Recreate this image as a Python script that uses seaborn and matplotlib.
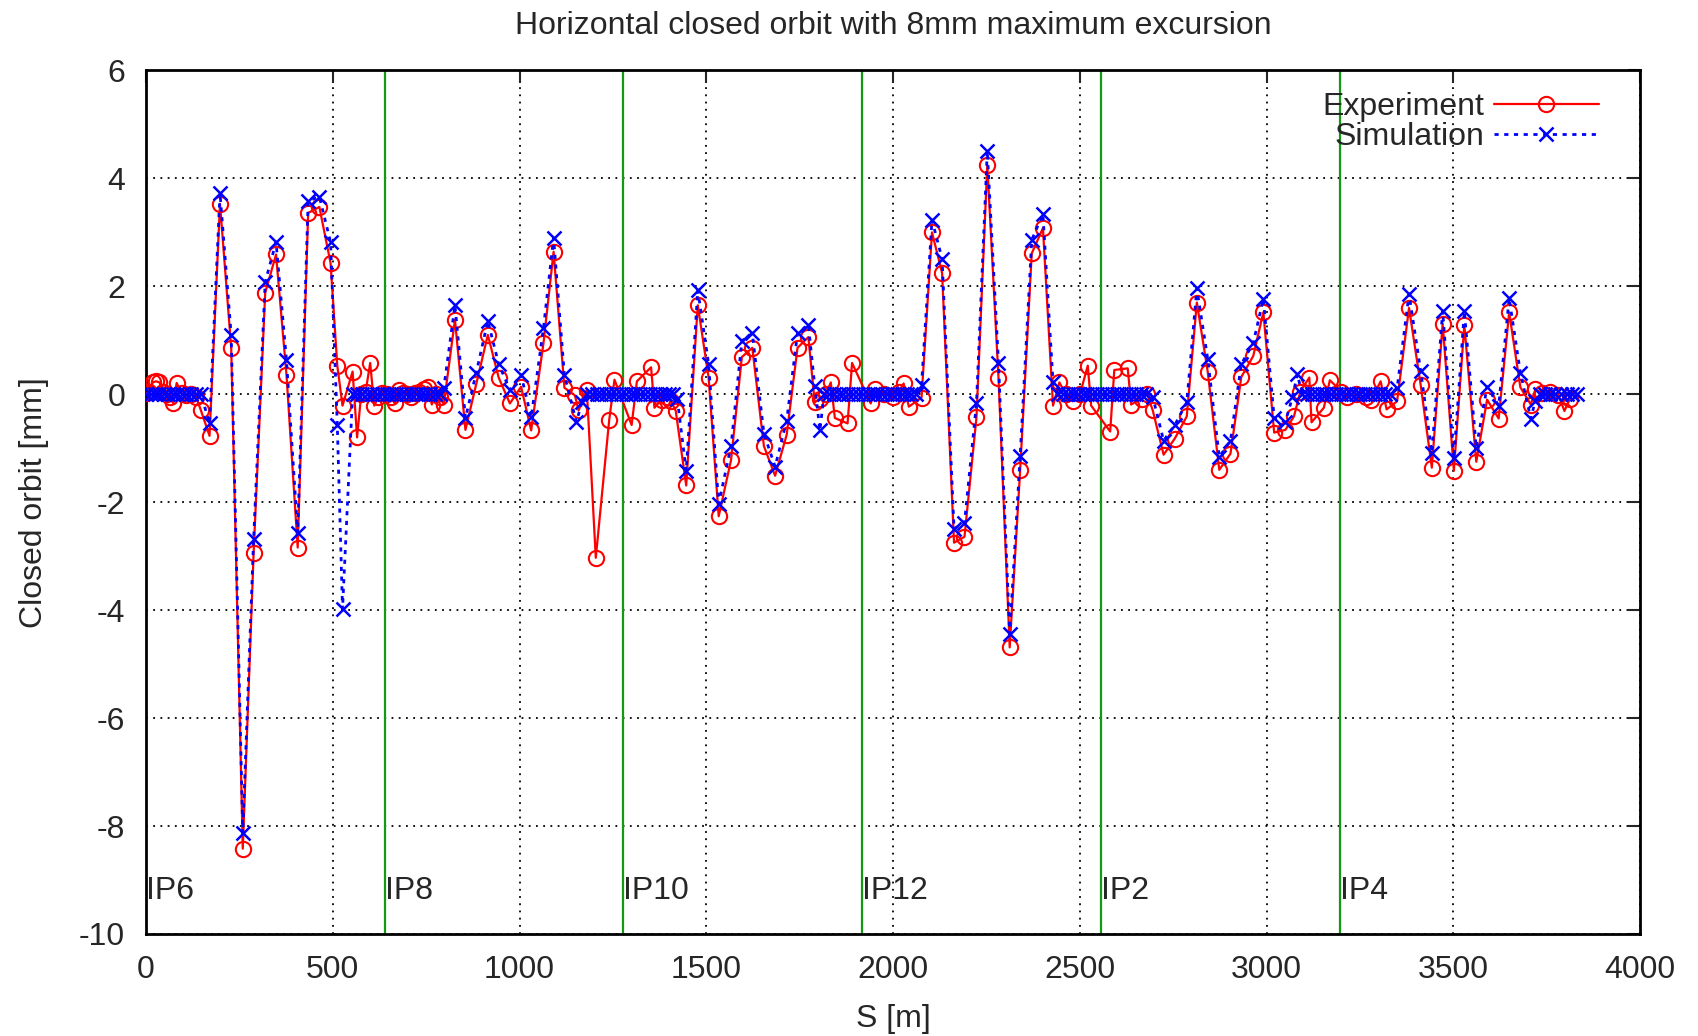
import matplotlib
matplotlib.use("Agg")
import matplotlib.pyplot as plt
import seaborn as sns
import pandas as pd

# ---------------- data ----------------
exp_s = [0, 9, 18, 27, 36, 45, 55, 64, 73, 82, 95, 108, 121, 134, 147, 170,
         198, 228, 259, 288, 319, 348, 376, 406, 434, 464, 494, 512, 526,
         553, 565, 576, 588, 600, 611, 622, 633, 644, 655, 666, 677, 688, 699,
         710, 721, 732, 743, 754, 765, 776, 787, 797,
         827, 855, 884, 915, 944, 974, 1004, 1031, 1064, 1091, 1120,
         1148, 1158, 1180, 1204, 1240, 1254, 1300, 1314, 1352, 1361, 1380,
         1395, 1405, 1418,
         1446, 1477, 1506, 1533, 1566, 1595, 1623, 1654, 1684, 1715, 1744, 1773,
         1790, 1804, 1820, 1833, 1844, 1878, 1890, 1940, 1951, 1975, 2000, 2015,
         2028, 2042,
         2076, 2104, 2131, 2163, 2191, 2223, 2252, 2282, 2312, 2340, 2371, 2401,
         2428, 2445, 2462, 2481, 2500, 2521, 2530, 2581, 2592, 2628, 2637, 2665,
         2680, 2695,
         2724, 2754, 2786, 2813, 2842, 2873, 2903, 2932, 2964, 2991, 3020, 3050,
         3073, 3090, 3114, 3120, 3153, 3169, 3200, 3215, 3240, 3265, 3280, 3305,
         3321,
         3349, 3381, 3412, 3442, 3471, 3501, 3529, 3561, 3590, 3621, 3649, 3679,
         3707, 3719, 3737, 3759, 3781, 3797, 3812]
exp_v = [0.02, 0.05, 0.22, 0.24, 0.22, 0.05, 0.00, -0.05, -0.17, 0.21, 0.02, -0.02, 0.00, -0.05, -0.30, -0.77,
         3.53, 0.86, -8.42, -2.94, 1.88, 2.59, 0.36, -2.84, 3.36, 3.47, 2.43, 0.53, -0.21,
         0.42, -0.80, 0.00, 0.05, 0.58, -0.21, -0.05, 0.02, 0.00, -0.05, -0.17, 0.08, 0.02, 0.00,
         -0.05, 0.03, 0.05, 0.10, 0.14, -0.19, 0.00, -0.05, -0.19,
         1.38, -0.66, 0.19, 1.10, 0.31, -0.17, 0.14, -0.67, 0.95, 2.64, 0.12,
         -0.02, -0.30, 0.08, -3.03, -0.47, 0.27, -0.57, 0.24, 0.50, -0.25, -0.10,
         -0.05, -0.12, -0.31,
         -1.69, 1.65, 0.31, -2.26, -1.22, 0.69, 0.86, -0.96, -1.51, -0.75, 0.86, 1.06,
         -0.15, -0.08, 0.00, 0.22, -0.44, -0.54, 0.58, -0.17, 0.09, 0.00, -0.05, 0.05,
         0.20, -0.23,
         -0.06, 3.00, 2.25, -2.75, -2.64, -0.43, 4.25, 0.31, -4.69, -1.40, 2.61, 3.08,
         -0.21, 0.22, 0.00, -0.13, 0.00, 0.53, -0.21, -0.69, 0.45, 0.48, -0.19, -0.08,
         0.00, -0.30,
         -1.12, -0.82, -0.41, 1.70, 0.42, -1.40, -1.10, 0.32, 0.71, 1.52, -0.71, -0.66,
         -0.41, 0.05, 0.31, -0.52, -0.25, 0.26, 0.05, -0.05, 0.00, -0.05, -0.10, 0.24,
         -0.28,
         -0.13, 1.60, 0.18, -1.36, 1.31, -1.42, 1.28, -1.25, -0.10, -0.45, 1.52, 0.13,
         -0.19, 0.09, 0.03, 0.05, -0.02, -0.31, -0.08]

sim_s = [0, 12, 24, 36, 48, 60, 72, 84, 96, 108, 121, 134, 147, 170,
         198, 228, 259, 288, 319, 348, 376, 406, 434, 464, 494, 512, 526,
         553, 566, 579, 592, 605, 618, 631, 644, 657, 670, 683, 696, 709, 722,
         735, 748, 761, 774, 786, 797,
         827, 855, 884, 915, 944, 974, 1004, 1031, 1064, 1091, 1120, 1152, 1167,
         1180, 1193, 1206, 1219, 1232, 1245, 1258, 1271, 1284, 1297, 1310, 1323,
         1336, 1349, 1362, 1375, 1388, 1401, 1412, 1422,
         1446, 1477, 1506, 1533, 1566, 1595, 1623, 1654, 1684, 1715, 1744, 1773,
         1790, 1804,
         1815, 1828, 1841, 1854, 1867, 1880, 1893, 1906, 1919, 1932, 1945, 1958,
         1971, 1984, 1997, 2010, 2023, 2036, 2049, 2062,
         2076, 2104, 2131, 2163, 2191, 2223, 2252, 2282, 2312, 2340, 2371, 2401,
         2428,
         2442, 2455, 2468, 2481, 2494, 2507, 2520, 2533, 2546, 2559, 2572, 2585,
         2598, 2611, 2624, 2637, 2650, 2663, 2676, 2695,
         2724, 2754, 2786, 2813, 2842, 2873, 2903, 2932, 2964, 2991, 3020, 3050,
         3069, 3082,
         3095, 3108, 3121, 3134, 3147, 3160, 3173, 3186, 3199, 3212, 3225, 3238,
         3251, 3264, 3277, 3290, 3303, 3316, 3329,
         3349, 3381, 3412, 3442, 3471, 3501, 3529, 3561, 3590, 3621, 3649, 3679,
         3707, 3719,
         3732, 3745, 3758, 3772, 3787, 3803, 3817, 3830]
sim_v = [0, 0, 0, 0, 0, 0, 0, 0, 0, 0, 0, 0, 0, -0.54,
         3.73, 1.10, -8.13, -2.68, 2.08, 2.82, 0.63, -2.57, 3.58, 3.66, 2.82, -0.57, -3.98,
         0, 0, 0, 0, 0, 0, 0, 0, 0, 0, 0, 0, 0, 0,
         0, 0, 0, 0, 0, 0.11,
         1.65, -0.44, 0.40, 1.36, 0.56, 0.08, 0.36, -0.43, 1.23, 2.90, 0.35, -0.51, -0.15,
         0, 0, 0, 0, 0, 0, 0, 0, 0, 0, 0, 0,
         0, 0, 0, 0, 0, 0, 0, -0.08,
         -1.42, 1.93, 0.56, -2.03, -0.96, 0.99, 1.13, -0.73, -1.34, -0.49, 1.13, 1.29,
         0.16, -0.67,
         0, 0, 0, 0, 0, 0, 0, 0, 0, 0, 0, 0,
         0, 0, 0, 0, 0, 0, 0, 0,
         0.18, 3.23, 2.51, -2.49, -2.38, -0.17, 4.51, 0.58, -4.44, -1.14, 2.86, 3.34,
         0.22,
         0, 0, 0, 0, 0, 0, 0, 0, 0, 0, 0, 0,
         0, 0, 0, 0, 0, 0, 0, -0.05,
         -0.86, -0.57, -0.15, 1.96, 0.66, -1.16, -0.86, 0.56, 0.95, 1.77, -0.44, -0.51,
         -0.05, 0.37,
         0, 0, 0, 0, 0, 0, 0, 0, 0, 0, 0, 0,
         0, 0, 0, 0, 0, 0, 0,
         0.11, 1.86, 0.44, -1.08, 1.54, -1.19, 1.54, -0.99, 0.14, -0.21, 1.78, 0.40,
         -0.45, -0.12,
         0, 0, 0, 0, 0, 0, 0, 0]

ip_s = [0, 639, 1278, 1917, 2556, 3195]
ip_labels = ["IP6", "IP8", "IP10", "IP12", "IP2", "IP4"]

x_ticks = [0, 500, 1000, 1500, 2000, 2500, 3000, 3500, 4000]
y_ticks = [-10, -8, -6, -4, -2, 0, 2, 4, 6]

title = "Horizontal closed orbit with 8mm maximum excursion"
x_label = "S [m]"
y_label = "Closed orbit [mm]"

# ---------------- style ----------------
sns.set_style("white")
plt.rcParams['font.family'] = ['Liberation Sans', 'DejaVu Sans']
plt.rcParams['axes.unicode_minus'] = False

FS = 23
fig = plt.figure(figsize=(16.98, 10.36), dpi=100)
ax = fig.add_axes([0.086, 0.0985, 0.880, 0.8335])

df_exp = pd.DataFrame({"s": exp_s, "v": exp_v})
df_sim = pd.DataFrame({"s": sim_s, "v": sim_v})

for s in ip_s[1:]:
    ax.axvline(s, color="#139a13", lw=1.6, zorder=1)

sns.lineplot(data=df_exp, x="s", y="v", ax=ax, sort=False, estimator=None,
             color="#ff0000", lw=1.6, marker="o", markersize=11,
             markerfacecolor="none", markeredgecolor="#ff0000", markeredgewidth=1.5,
             label="Experiment", zorder=3)
sns.lineplot(data=df_sim, x="s", y="v", ax=ax, sort=False, estimator=None,
             color="#0000ff", lw=2.0, linestyle=(0, (1.5, 2.0)), marker="x",
             markersize=10.5, markeredgecolor="#0000ff", markeredgewidth=1.8,
             label="Simulation", zorder=4)

for s, lab in zip(ip_s, ip_labels):
    ax.text(s, -9.2, lab, ha="left", va="center", fontsize=FS)

ax.set_xlim(0, 4000)
ax.set_ylim(-10, 6)
ax.set_xticks(x_ticks)
ax.set_yticks(y_ticks)
ax.set_xticklabels([str(t) for t in x_ticks])
ax.set_yticklabels([str(t) for t in y_ticks])
ax.tick_params(direction="in", top=True, right=True, length=9, width=1.5,
               labelsize=FS, pad=15)
ax.grid(True, color="black", linestyle=(0, (1, 3)), linewidth=1.3)
for sp in ax.spines.values():
    sp.set_linewidth(2.0)
    sp.set_color("black")

ax.set_xlabel(x_label, fontsize=FS, labelpad=14)
ax.set_ylabel(y_label, fontsize=FS, labelpad=22)
ax.set_title(title, fontsize=FS, pad=26)

leg = ax.legend(loc="upper right", bbox_to_anchor=(0.981, 0.99), frameon=False,
                markerfirst=False, handlelength=3.3, fontsize=FS,
                labelspacing=0.0, handletextpad=0.3, borderaxespad=0)

fig.savefig("out.png", dpi=100)
